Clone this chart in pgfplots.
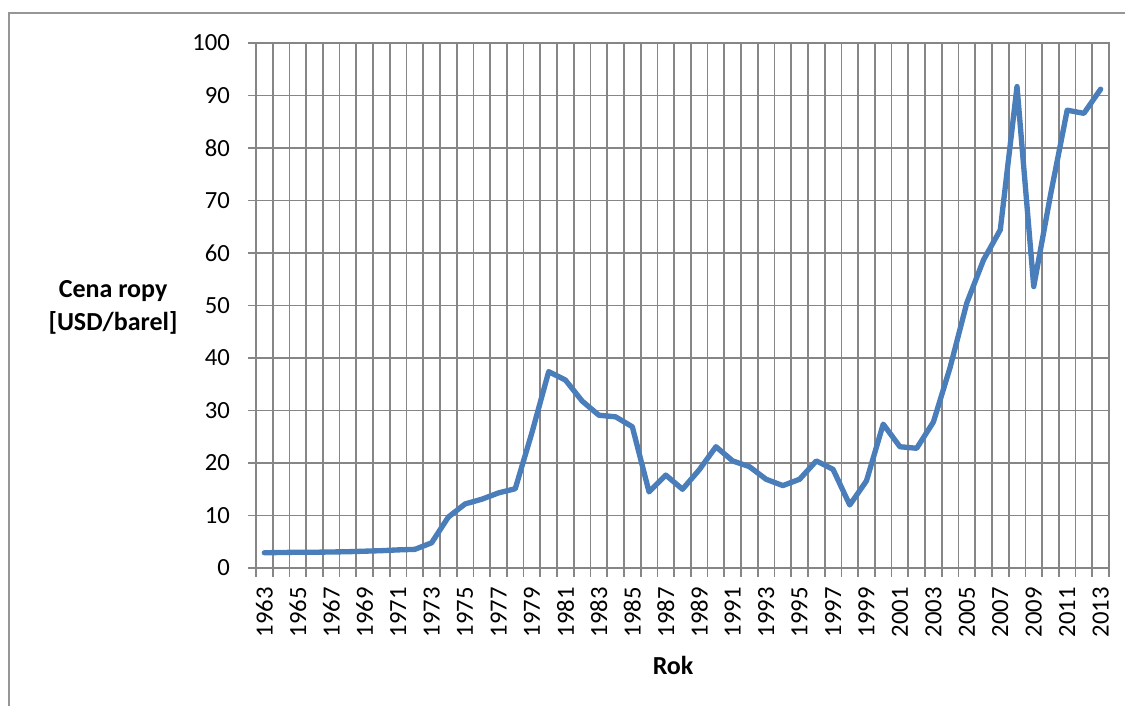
\documentclass[border=0pt]{standalone}
\usepackage{pgfplots}
\pgfplotsset{compat=1.18}
\usepackage{fontspec}
\setmainfont{Carlito}
\definecolor{gridgray}{RGB}{134,134,134}
\definecolor{framegray}{RGB}{150,150,150}
\definecolor{linblue}{RGB}{74,126,187}
\pgfplotstableread{
i price
0 2.9
1 2.95
2 3.0
3 3.0
4 3.05
5 3.1
6 3.2
7 3.3
8 3.45
9 3.55
10 4.8
11 9.7
12 12.2
13 13.1
14 14.3
15 15.1
16 25.8
17 37.4
18 35.8
19 31.8
20 29.1
21 28.8
22 26.9
23 14.5
24 17.7
25 15.0
26 18.7
27 23.1
28 20.4
29 19.3
30 16.9
31 15.7
32 16.9
33 20.4
34 18.8
35 12.0
36 16.6
37 27.4
38 23.1
39 22.8
40 27.8
41 38.2
42 50.5
43 58.7
44 64.4
45 91.7
46 53.6
47 71.0
48 87.2
49 86.6
50 91.2
}\oil
\begin{document}
\begin{tikzpicture}[x=0.75pt,y=0.75pt]
\useasboundingbox (-256,-138) rectangle (869,568);
\draw[framegray, line width=1.1pt] (-247,-150) -- (-247,555) -- (900,555);
\begin{axis}[
  at={(0,0)}, anchor=south west,
  scale only axis,
  width=639.75pt, height=393.75pt,
  xmin=-0.5, xmax=50.5,
  ymin=0, ymax=100,
  xtick={0,2,...,50},
  xticklabels={1963,1965,1967,1969,1971,1973,1975,1977,1979,1981,1983,1985,1987,1989,1991,1993,1995,1997,1999,2001,2003,2005,2007,2009,2011,2013},
  minor xtick={-0.5,0.5,...,50.5},
  ytick={0,10,...,100},
  xminorgrids=true, xmajorgrids=false, ymajorgrids=true,
  major x tick style={draw=none},
  minor tick length=6.5pt,
  major tick length=6pt,
  tick align=outside,
  tick style={gridgray, line width=1.3pt},
  grid style={gridgray, line width=1.3pt},
  minor grid style={gridgray, line width=1.3pt},
  axis line style={gridgray, line width=1.3pt},
  xtick pos=bottom, ytick pos=left,
  /pgf/number format/assume math mode=true,
  ticklabel style={font=\fontsize{18.5}{21}\selectfont},
  xticklabel style={rotate=90, anchor=east, xshift=-5pt},
  yticklabel style={xshift=-10pt},
  clip=false,
]
\addplot[linblue, line width=4pt, line join=round, line cap=round] table[x=i, y=price] {\oil};
\node[align=center, font=\bfseries\fontsize{19.5}{25}\selectfont] at (rel axis cs:-0.1676,0.497) {Cena ropy\\{[USD/barel]}};
\node[font=\bfseries\fontsize{19.5}{21}\selectfont] at (rel axis cs:0.489,-0.185) {Rok};
\end{axis}
\end{tikzpicture}
\end{document}
